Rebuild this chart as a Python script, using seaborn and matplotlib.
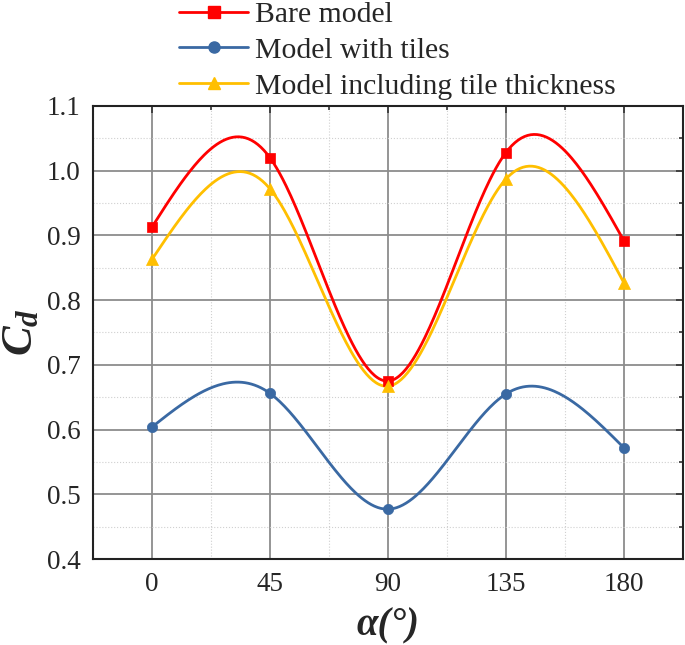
import numpy as np
import pandas as pd
import seaborn as sns
import matplotlib.pyplot as plt
from matplotlib.lines import Line2D
from matplotlib.ticker import MultipleLocator

alpha = [0, 45, 90, 135, 180]
bare = [0.913, 1.020, 0.675, 1.028, 0.892]
tiles = [0.604, 0.656, 0.477, 0.655, 0.572]
thick = [0.863, 0.972, 0.667, 0.987, 0.827]
labels = ["Bare model", "Model with tiles", "Model including tile thickness"]
colors = ["#FF0000", "#3A69A3", "#FFBF00"]
markers = ["s", "o", "^"]


def natural_spline(x, y, n=300):
    # natural cubic spline through the points, only used to draw the smooth line
    x = np.asarray(x, float)
    y = np.asarray(y, float)
    k = len(x)
    h = np.diff(x)
    A = np.zeros((k, k))
    b = np.zeros(k)
    A[0, 0] = 1
    A[-1, -1] = 1
    for i in range(1, k - 1):
        A[i, i - 1] = h[i - 1]
        A[i, i] = 2 * (h[i - 1] + h[i])
        A[i, i + 1] = h[i]
        b[i] = 3 * ((y[i + 1] - y[i]) / h[i] - (y[i] - y[i - 1]) / h[i - 1])
    c = np.linalg.solve(A, b)
    xs = np.linspace(x[0], x[-1], n)
    ys = np.empty_like(xs)
    for j, xv in enumerate(xs):
        i = min(np.searchsorted(x, xv, side="right") - 1, k - 2)
        dx = xv - x[i]
        bi = (y[i + 1] - y[i]) / h[i] - h[i] * (2 * c[i] + c[i + 1]) / 3
        di = (c[i + 1] - c[i]) / (3 * h[i])
        ys[j] = y[i] + bi * dx + c[i] * dx ** 2 + di * dx ** 3
    return xs, ys


sns.set_style("white")
plt.rcParams["font.family"] = ["Liberation Serif", "DejaVu Serif"]
plt.rcParams["mathtext.fontset"] = "custom"
plt.rcParams["mathtext.it"] = "Liberation Serif:italic:bold"
plt.rcParams["mathtext.rm"] = "Liberation Serif:bold"

fig = plt.figure(figsize=(6.85, 6.45), dpi=100)
ax = fig.add_axes([0.1358, 0.1333, 0.861, 0.7024])

handles = []
for ys, lab, col, mk in zip([bare, tiles, thick], labels, colors, markers):
    sx, sy = natural_spline(alpha, ys)
    sns.lineplot(x=sx, y=sy, color=col, lw=2, ax=ax, legend=False, zorder=3)
    ms = 75 if mk == "^" else 55
    sns.scatterplot(x=alpha, y=ys, color=col, marker=mk, s=ms, ax=ax,
                    edgecolor=col, linewidth=0.5, legend=False, zorder=4)
    handles.append(Line2D([0], [0], color=col, lw=2, marker=mk, markersize=8,
                          markeredgecolor=col, label=lab))

ax.set_xlim(-22.5, 202.5)
ax.set_ylim(0.4, 1.1)
ax.xaxis.set_major_locator(MultipleLocator(45))
ax.xaxis.set_minor_locator(MultipleLocator(22.5))
ax.yaxis.set_major_locator(MultipleLocator(0.1))
ax.yaxis.set_minor_locator(MultipleLocator(0.05))
ax.set_yticklabels([f"{v:.1f}" for v in ax.get_yticks()])
ax.grid(which="major", color="#8c8c8c", lw=1.3, zorder=0)
ax.grid(which="minor", color="#d0d0d0", lw=0.8, ls=":", zorder=0)
ax.tick_params(which="both", direction="in", top=True, right=True,
               labelsize=19.5, width=1.2, color="#333333")
ax.tick_params(which="major", length=5, pad=9)
ax.tick_params(which="minor", length=3)
for sp in ax.spines.values():
    sp.set_linewidth(1.5)
    sp.set_color("#222222")

ax.set_xlabel("α(°)", fontsize=28, fontweight="bold", fontstyle="italic",
              labelpad=8)
ax.set_ylabel(r"$C_d$", fontsize=32, labelpad=4)

fig.legend(handles=handles, loc="upper left", bbox_to_anchor=(0.262, 0.998),
           frameon=False, fontsize=21.4, handlelength=2.3, handletextpad=0.25,
           labelspacing=0.3, borderaxespad=0, borderpad=0)

fig.savefig("out.png", dpi=100)
